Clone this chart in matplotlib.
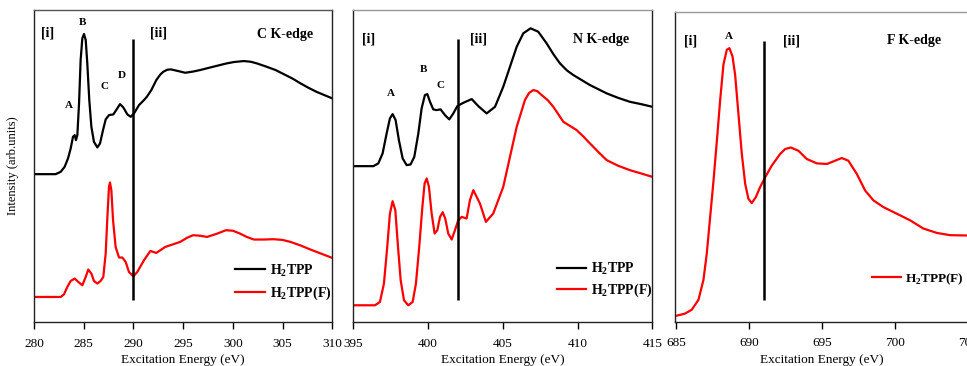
import matplotlib
matplotlib.use("Agg")
import matplotlib.pyplot as plt

plt.rcParams['font.family'] = ['Liberation Serif', 'DejaVu Serif']
plt.rcParams['mathtext.fontset'] = 'custom'
plt.rcParams['mathtext.rm'] = 'Liberation Serif'
plt.rcParams['mathtext.bf'] = 'Liberation Serif:bold'

# ---------------- C K-edge ----------------
c_h2tpp_e = [280, 282.18, 282.68, 283.08, 283.42, 283.69, 283.92, 284.09, 284.22, 284.36,
             284.53, 284.69, 284.86, 285.03, 285.2, 285.36, 285.56, 285.77, 286.03, 286.37,
             286.64, 286.94, 287.21, 287.54, 287.98, 288.31, 288.65, 288.98, 289.39, 289.72,
             290.06, 290.56, 291.06, 291.35, 291.8, 292.3, 292.7, 293.0, 293.4, 293.76, 294.5,
             295.2, 296.0, 296.7, 297.7, 298.7, 299.4, 300.1, 301.1, 301.8, 302.4, 303.4,
             304.3, 305.1, 306.0, 306.8, 307.6, 308.4, 309.2, 310]
c_h2tpp_i = [148, 148, 150.3, 155.3, 163.7, 173.7, 185.3, 187, 182, 187,
             218.7, 262, 283.7, 288, 282, 258.7, 222, 195.3, 180.3, 174.7,
             178.7, 192, 202.7, 207, 207.7, 212.7, 218, 214.7, 207.7, 205.3,
             208.7, 217, 222, 225.3, 232, 242, 247.5, 250.3, 252.3, 252.7, 251,
             249.3, 250.5, 252, 254.5, 257, 258.7, 260, 261, 260.3, 258.7, 255.3,
             252, 248, 243.5, 238.7, 234.3, 230.3, 227, 223.7]

c_h2tppf_e = [280, 282.68, 283.02, 283.35, 283.69, 284.09, 284.46, 284.86, 285.2, 285.46,
              285.77, 286.03, 286.37, 286.7, 286.97, 287.21, 287.38, 287.54, 287.64, 287.78,
              287.95, 288.21, 288.55, 288.88, 289.22, 289.55, 289.99, 290.39, 291.06, 291.7,
              292.3, 293.2, 294.7, 295.4, 296.0, 296.7, 297.4, 298.4, 299.3, 300.0, 300.7,
              301.4, 302.1, 303.1, 304.1, 305.0, 305.8, 306.8, 307.8, 308.9, 310]
c_h2tppf_i = [25.3, 25.3, 28, 35.3, 41.3, 43.7, 40.3, 37, 45.3, 52.7,
              48.7, 41.3, 38.7, 41.3, 45.3, 68.7, 105.3, 135.3, 139.7, 132,
              102, 75.3, 64.7, 64.7, 60.3, 50.3, 46, 50.3, 62, 71.3,
              69.3, 75.3, 80.3, 84.5, 87, 86.5, 85.3, 88.5, 92, 91.5, 88.7,
              85.3, 82.7, 82.7, 83, 82.3, 80.3, 76.8, 72.7, 68.5, 64.3]

# ---------------- N K-edge ----------------
n_h2tpp_e = [395, 396.34, 396.67, 396.96, 397.23, 397.45, 397.63, 397.83, 398.05, 398.3,
             398.57, 398.83, 399.08, 399.35, 399.57, 399.79, 399.95, 400.13, 400.35, 400.57,
             400.84, 401.13, 401.42, 401.69, 401.96, 402.36, 402.92, 403.36, 403.92, 404.48,
             405.03, 405.48, 405.93, 406.37, 406.86, 407.37, 407.93, 408.4, 408.82, 409.3,
             409.72, 410.83, 411.95, 412.7, 413.5, 414.3, 415]
n_h2tpp_i = [156, 156, 158.7, 168.7, 188.7, 203.7, 208, 202, 182, 163.7,
             157, 157.7, 165.3, 188.7, 213.7, 227, 228, 220.3, 212.7, 212,
             212.7, 207, 202.7, 208.7, 216, 219.3, 223, 216, 208.7, 215.3,
             235.3, 255.3, 275.3, 288.7, 293.7, 290.3, 278.7, 267.5, 258.7, 251.5,
             247, 237, 228.7, 224.3, 220.3, 217.8, 215.3]

n_h2tppf_e = [395, 396.45, 396.78, 397.05, 397.27, 397.45, 397.63, 397.81, 397.99, 398.17,
              398.39, 398.68, 398.97, 399.19, 399.41, 399.62, 399.77, 399.91, 400.06, 400.24,
              400.44, 400.62, 400.8, 400.98, 401.15, 401.35, 401.58, 401.8, 402.02, 402.25,
              402.58, 402.8, 403.03, 403.47, 403.87, 404.36, 405.03, 405.48, 405.93, 406.48,
              406.75, 407.04, 407.3, 407.6, 408.0, 408.38, 409.05, 409.94, 410.4, 410.83,
              411.4, 411.95, 412.7, 413.5, 414.3, 415]
n_h2tppf_i = [17, 17, 20.3, 38.7, 75.3, 108.7, 121, 112, 75.3, 42,
              22, 17, 20.3, 38.7, 75.3, 115.3, 138.7, 143.7, 135.3, 108.7,
              88.7, 92, 105.3, 110, 103.7, 88.7, 82.7, 92, 102, 105.3,
              103.7, 122, 132, 118.7, 100.3, 108.7, 135.3, 165.3, 195.3, 222,
              229, 232, 231, 227, 222, 215.3, 200.3, 192, 185.5, 178.7,
              170, 162, 156.5, 152, 148.5, 145.3]

# ---------------- F K-edge ----------------
f_h2tppf_e = [685.05, 685.6, 686.07, 686.53, 686.87, 687.1, 687.33, 687.56, 687.79, 688.01,
              688.24, 688.47, 688.65, 688.86, 689.04, 689.27, 689.5, 689.73, 689.95, 690.18,
              690.46, 690.75, 691.1, 691.55, 692.12, 692.47, 692.85, 693.38, 693.95, 694.64,
              695.33, 695.89, 696.35, 696.8, 697.38, 697.95, 698.52, 699.2, 700.11, 701.03,
              701.94, 702.86, 703.77, 704.93]
f_h2tppf_i = [6, 8, 12, 22, 42, 68.7, 105.3, 142, 182, 222,
              258.7, 273.7, 275.3, 267, 248.7, 208.7, 168.7, 138.7, 123.7, 119.3,
              125.3, 135.3, 145.3, 157, 168.7, 173.7, 175.3, 172, 163.7, 159.3,
              158.7, 162, 164.7, 162, 148.7, 132, 122, 115.3, 108.7, 102,
              93.7, 89.3, 87, 86.7]

# Region divider energies and their vertical extent
divider_c = 290.0
divider_n = 402.0
divider_f = 691.05
divider_span = (22, 283)

c_ticks = [280, 285, 290, 295, 300, 305, 310]
n_ticks = [395, 400, 405, 410, 415]
f_ticks = [685, 690, 695, 700, 705]

lab1 = r'H$_{\mathbf{2}}$TPP'
lab2 = r'H$_{\mathbf{2}}$TPP(F)'

W, H = 967, 366
fig = plt.figure(figsize=(W / 100, H / 100), dpi=100)

def make_ax(left_px, right_px, top_px, bottom_px, xlim, ticks, topcolor):
    ax = fig.add_axes([left_px / W, 1 - bottom_px / H,
                       (right_px - left_px) / W, (bottom_px - top_px) / H])
    ax.set_xlim(*xlim)
    ax.set_ylim(0, 312)
    ax.set_xticks(ticks)
    ax.set_yticks([])
    ax.tick_params(axis='x', direction='out', length=5, width=1, pad=6, labelsize=9.5)
    for s in ['left', 'right', 'bottom']:
        ax.spines[s].set_linewidth(1.0)
        ax.spines[s].set_color('#222222')
    ax.spines['top'].set_color(topcolor)
    ax.spines['top'].set_linewidth(1.0)
    ax.set_xlabel('Excitation Energy (eV)', fontsize=9.5, labelpad=3.5)
    return ax

lw = 1.6
bold = dict(fontweight='bold', ha='center', va='center')

# Panel 1
ax1 = make_ax(34, 332.3, 10, 322.3, (280, 310), c_ticks, '#555555')
ax1.plot(c_h2tpp_e, c_h2tpp_i, color='black', lw=lw, label=lab1)
ax1.plot(c_h2tppf_e, c_h2tppf_i, color='red', lw=lw, label=lab2)
ax1.vlines(divider_c, *divider_span, color='black', lw=1.8)
ax1.set_ylabel('Intensity (arb.units)', fontsize=9)
ax1.yaxis.set_label_coords(-0.05, 0.5)
ax1.text(281.4, 289, '[i]', fontsize=10, **bold)
ax1.text(292.5, 289, '[ii]', fontsize=10, **bold)
ax1.text(305.2, 288, 'C K-edge', fontsize=10, **bold)
for t, x, y in [('A', 283.5, 217), ('B', 284.9, 300), ('C', 287.1, 236), ('D', 288.8, 247)]:
    ax1.text(x, y, t, fontsize=8, **bold)
ax1.legend(loc='upper left', bbox_to_anchor=(0.675, 0.192), frameon=False,
           prop={'weight': 'bold', 'size': 10}, handlelength=2.1, handletextpad=0.4,
           labelspacing=0.45, borderpad=0, borderaxespad=0)

# Panel 2
ax2 = make_ax(353.3, 652.3, 10, 322.3, (395, 415), n_ticks, '#999999')
ax2.plot(n_h2tpp_e, n_h2tpp_i, color='black', lw=lw, label=lab1)
ax2.plot(n_h2tppf_e, n_h2tppf_i, color='red', lw=lw, label=lab2)
ax2.vlines(divider_n, *divider_span, color='black', lw=1.8)
ax2.text(396.0, 283, '[i]', fontsize=10, **bold)
ax2.text(403.4, 283, '[ii]', fontsize=10, **bold)
ax2.text(411.6, 283, 'N K-edge', fontsize=10, **bold)
for t, x, y in [('A', 397.5, 229), ('B', 399.7, 253), ('C', 400.8, 237)]:
    ax2.text(x, y, t, fontsize=8, **bold)
ax2.legend(loc='upper left', bbox_to_anchor=(0.68, 0.198), frameon=False,
           prop={'weight': 'bold', 'size': 10}, handlelength=2.1, handletextpad=0.4,
           labelspacing=0.35, borderpad=0, borderaxespad=0)

# Panel 3
ax3 = make_ax(674.7, 968, 11.7, 321.6, (684.9, 705), f_ticks, '#999999')
ax3.plot(f_h2tppf_e, f_h2tppf_i, color='red', lw=lw, label=lab2)
ax3.vlines(divider_f, *divider_span, color='black', lw=1.8)
ax3.text(686.0, 283, '[i]', fontsize=10, **bold)
ax3.text(688.6, 287, 'A', fontsize=8, **bold)
ax3.text(692.9, 283, '[ii]', fontsize=10, **bold)
ax3.text(701.3, 283, 'F K-edge', fontsize=10, **bold)
ax3.legend(loc='upper left', bbox_to_anchor=(0.672, 0.163), frameon=False,
           prop={'weight': 'bold', 'size': 9.5}, handlelength=2.2, handletextpad=0.35,
           borderpad=0, borderaxespad=0)

fig.savefig('out.png', dpi=100)
